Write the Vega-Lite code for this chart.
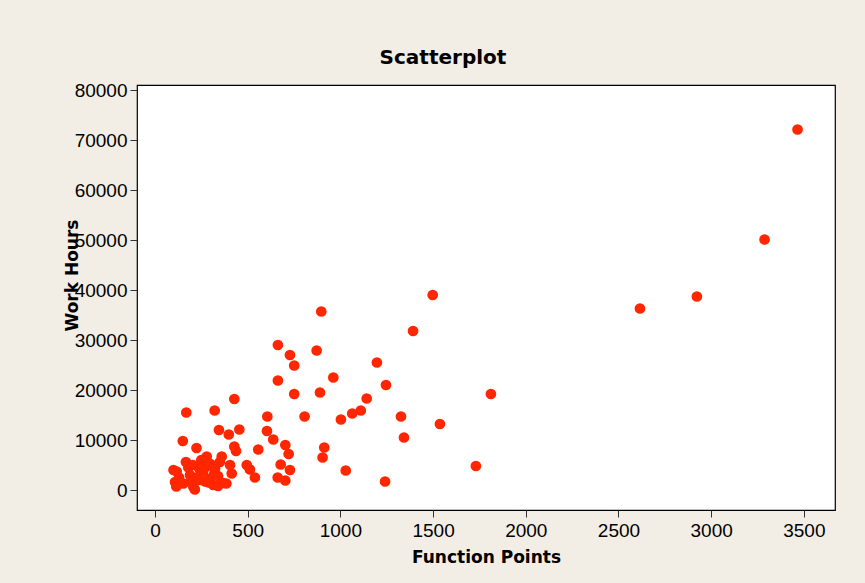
{
  "$schema": "https://vega.github.io/schema/vega-lite/v6.json",
  "width": 698,
  "height": 425,
  "autosize": {"type": "none"},
  "padding": {"left": 137, "top": 85, "right": 30, "bottom": 73},
  "background": "#f2eee6",
  "title": {"text": "Scatterplot", "font": "DejaVu Sans", "fontSize": 20, "fontWeight": "bold", "color": "#000000", "anchor": "middle", "dx": -43, "offset": 13},
  "config": {
    "view": {"stroke": "#000000", "strokeWidth": 1.2, "fill": "#ffffff"},
    "axis": {"grid": false, "domain": false, "tickColor": "#333333", "tickSize": 7, "labelFont": "Liberation Sans", "labelFontSize": 19, "labelColor": "#000000", "titleFont": "DejaVu Sans", "titleFontSize": 17, "titleFontWeight": "bold", "titleColor": "#000000"}
  },
  "data": {"values": [
    {"fp": 100, "wh": 4000}, {"fp": 108, "wh": 1600}, {"fp": 117, "wh": 3700}, {"fp": 115, "wh": 700}, {"fp": 130, "wh": 2500},
    {"fp": 153, "wh": 1300}, {"fp": 167, "wh": 5600}, {"fp": 189, "wh": 3000}, {"fp": 205, "wh": 5000}, {"fp": 207, "wh": 600},
    {"fp": 215, "wh": 100}, {"fp": 224, "wh": 8400}, {"fp": 230, "wh": 2500}, {"fp": 243, "wh": 2000}, {"fp": 250, "wh": 6000},
    {"fp": 260, "wh": 3700}, {"fp": 270, "wh": 1700}, {"fp": 279, "wh": 6700}, {"fp": 297, "wh": 2300}, {"fp": 300, "wh": 5200},
    {"fp": 314, "wh": 1000}, {"fp": 324, "wh": 4300}, {"fp": 340, "wh": 2800}, {"fp": 340, "wh": 800}, {"fp": 350, "wh": 5600},
    {"fp": 360, "wh": 6700}, {"fp": 367, "wh": 1400}, {"fp": 385, "wh": 1300}, {"fp": 405, "wh": 5000}, {"fp": 414, "wh": 3300},
    {"fp": 180, "wh": 4500}, {"fp": 240, "wh": 4200}, {"fp": 280, "wh": 4800}, {"fp": 320, "wh": 3300}, {"fp": 195, "wh": 1800}, {"fp": 290, "wh": 1500},
    {"fp": 150, "wh": 9800}, {"fp": 428, "wh": 8700}, {"fp": 437, "wh": 7800}, {"fp": 495, "wh": 5000},
    {"fp": 169, "wh": 15500}, {"fp": 322, "wh": 15900}, {"fp": 428, "wh": 18200}, {"fp": 345, "wh": 12000}, {"fp": 398, "wh": 11100},
    {"fp": 455, "wh": 12100}, {"fp": 606, "wh": 14700}, {"fp": 604, "wh": 11800}, {"fp": 638, "wh": 10100}, {"fp": 703, "wh": 9000},
    {"fp": 721, "wh": 7200}, {"fp": 557, "wh": 8100}, {"fp": 512, "wh": 4100}, {"fp": 539, "wh": 2500}, {"fp": 678, "wh": 5100},
    {"fp": 728, "wh": 4000}, {"fp": 662, "wh": 2500}, {"fp": 703, "wh": 1900},
    {"fp": 663, "wh": 29000}, {"fp": 728, "wh": 27000}, {"fp": 751, "wh": 24900}, {"fp": 663, "wh": 21900}, {"fp": 751, "wh": 19200},
    {"fp": 807, "wh": 14700}, {"fp": 890, "wh": 19500}, {"fp": 872, "wh": 27900}, {"fp": 897, "wh": 35700}, {"fp": 913, "wh": 8500},
    {"fp": 904, "wh": 6500}, {"fp": 962, "wh": 22500}, {"fp": 1003, "wh": 14100}, {"fp": 1029, "wh": 3900}, {"fp": 1064, "wh": 15300},
    {"fp": 1110, "wh": 15900}, {"fp": 1142, "wh": 18300}, {"fp": 1197, "wh": 25500}, {"fp": 1246, "wh": 21000}, {"fp": 1241, "wh": 1700},
    {"fp": 1327, "wh": 14700}, {"fp": 1343, "wh": 10500}, {"fp": 1392, "wh": 31800}, {"fp": 1498, "wh": 39000}, {"fp": 1537, "wh": 13200},
    {"fp": 1731, "wh": 4800}, {"fp": 1812, "wh": 19200}, {"fp": 2616, "wh": 36300}, {"fp": 2923, "wh": 38700}, {"fp": 3288, "wh": 50100},
    {"fp": 3466, "wh": 72100}
  ]},
  "mark": {"type": "circle", "size": 115, "color": "#ff2600", "opacity": 1},
  "encoding": {
    "x": {"field": "fp", "type": "quantitative", "title": "Function Points",
      "scale": {"domain": [-97, 3668], "nice": false, "zero": false},
      "axis": {"values": [0, 500, 1000, 1500, 2000, 2500, 3000, 3500], "format": "d", "labelPadding": 4, "titlePadding": 9}},
    "y": {"field": "wh", "type": "quantitative", "title": "Work Hours",
      "scale": {"domain": [-4000, 81000], "nice": false, "zero": false},
      "axis": {"values": [0, 10000, 20000, 30000, 40000, 50000, 60000, 70000, 80000], "format": "d", "labelPadding": 3, "titleX": -56, "titleY": 190}}
  }
}
